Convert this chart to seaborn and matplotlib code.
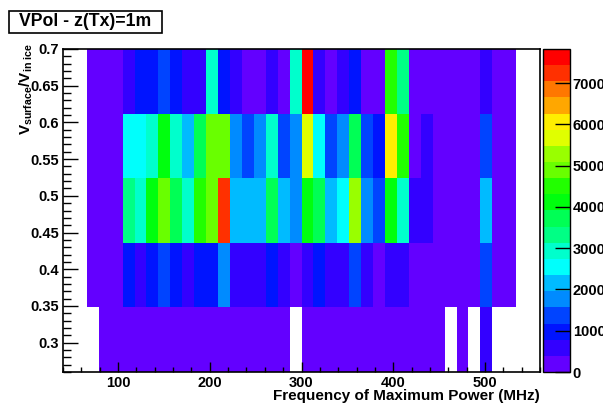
import colorsys
import numpy as np
import pandas as pd
import matplotlib
matplotlib.use("Agg")
import matplotlib.pyplot as plt
from matplotlib.colors import ListedColormap
from matplotlib.patches import Rectangle
from matplotlib.ticker import MultipleLocator, FormatStrFormatter
import seaborn as sns

# bin edges of the 2D histogram
freq_edges = list(range(40, 561, 13))          # MHz, 40 bins
ratio_edges = [0.26, 0.348, 0.436, 0.524, 0.612, 0.70]

# counts per ratio row (bottom -> top), one value per frequency bin
counts_row0 = [0, 0, 0, 150, 180, 220, 240, 230, 250, 260, 240, 250, 230, 260, 240, 220,
               230, 210, 200, 0, 190, 200, 210, 190, 200, 180, 170, 190, 180, 150,
               140, 120, 0, 90, 0, 520, 0, 0, 0, 0]
counts_row1 = [0, 0, 230, 260, 250, 990, 620, 970, 1360, 1000, 600, 960, 1020, 1770, 580, 610,
               570, 980, 560, 370, 590, 1000, 600, 620, 1390, 570, 360, 560, 590, 280,
               260, 220, 200, 190, 180, 1400, 210, 170, 0, 0]
counts_row2 = [0, 0, 300, 320, 290, 3350, 2900, 4120, 4870, 3750, 2960, 4480, 4900, 7250, 2170, 2130,
               2190, 3700, 2150, 1770, 4100, 3740, 2160, 2560, 5300, 1760, 1380, 4080, 2920, 600,
               580, 340, 300, 270, 250, 2140, 300, 220, 0, 0]
counts_row3 = [0, 0, 260, 300, 280, 2520, 2580, 2900, 4050, 2950, 2180, 3700, 4850, 4920, 1780, 1400,
               1720, 2930, 1380, 1800, 5700, 2560, 1350, 1750, 3680, 1390, 1010, 6100, 4520, 370,
               520, 300, 250, 230, 210, 1360, 280, 190, 0, 0]
counts_row4 = [0, 0, 210, 260, 240, 560, 1010, 950, 1400, 990, 640, 600, 2900, 1000, 620, 330,
               300, 520, 350, 2960, 7830, 610, 360, 700, 1050, 310, 280, 4480, 3300, 250,
               220, 190, 170, 200, 180, 640, 230, 160, 0, 0]

cbar_ticks = [0, 1000, 2000, 3000, 4000, 5000, 6000, 7000]

rows = [counts_row0, counts_row1, counts_row2, counts_row3, counts_row4]
freq_centers = [(a + b) / 2 for a, b in zip(freq_edges[:-1], freq_edges[1:])]
ratio_centers = [(a + b) / 2 for a, b in zip(ratio_edges[:-1], ratio_edges[1:])]
records = []
for yc, row in zip(ratio_centers, rows):
    for xc, c in zip(freq_centers, row):
        if c > 0:
            records.append((xc, yc, c))
df = pd.DataFrame(records, columns=["freq", "ratio", "count"])

plt.rcParams['font.family'] = ['Liberation Sans', 'DejaVu Sans']
plt.rcParams['font.weight'] = 'bold'
plt.rcParams['mathtext.fontset'] = 'custom'
plt.rcParams['mathtext.rm'] = 'Liberation Sans:bold'
plt.rcParams['mathtext.bf'] = 'Liberation Sans:bold'
plt.rcParams['mathtext.it'] = 'Liberation Sans:bold'

# ROOT-like violet->red palette, 20 contour levels
hues = [280 - (int((j + 0.99) * 50 / 20) + 1) * 5.6 for j in range(20)]
palette = ListedColormap([colorsys.hls_to_rgb(h / 360, 0.5, 1) for h in hues])

fig = plt.figure(figsize=(6.03, 4.05), dpi=100)
ax = fig.add_axes([63 / 603, 33 / 405, 477 / 603, 323 / 405])
cax = fig.add_axes([543 / 603, 33 / 405, 27 / 603, 323 / 405])

sns.histplot(data=df, x="freq", y="ratio", weights="count",
             bins=[freq_edges, ratio_edges], cmap=palette, vmax=max(counts_row4),
             cbar=True, cbar_ax=cax, cbar_kws=dict(ticks=cbar_ticks), ax=ax)

ax.set_xlim(40, 560)
ax.set_ylim(0.26, 0.70)
ax.xaxis.set_major_locator(MultipleLocator(100))
ax.xaxis.set_minor_locator(MultipleLocator(20))
ax.yaxis.set_major_locator(MultipleLocator(0.05))
ax.yaxis.set_minor_locator(MultipleLocator(0.01))
ax.yaxis.set_major_formatter(FormatStrFormatter('%g'))
ax.tick_params(axis='x', which='major', direction='in', length=7, width=1, labelsize=10.5, pad=3)
ax.tick_params(axis='x', which='minor', direction='in', length=3.3, width=1)
ax.tick_params(axis='y', which='major', direction='in', length=10.8, width=1, labelsize=10.5, pad=3)
ax.tick_params(axis='y', which='minor', direction='in', length=5.5, width=1)
for sp in ax.spines.values():
    sp.set_color('black')
    sp.set_linewidth(1.2)
    sp.set_zorder(5)

ax.set_xlabel("Frequency of Maximum Power (MHz)", loc='right', fontsize=11,
              fontweight='bold', labelpad=-1)
ax.set_ylabel(r'$\mathbf{V_{surface}/V_{in\ ice}}$', loc='top', fontsize=11)
ax.yaxis.set_label_coords(-0.059, 1.02)

cax.tick_params(direction='in', length=10.8, width=1, labelsize=10.5, pad=2)
cax.yaxis.set_major_formatter(FormatStrFormatter('%d'))
for sp in cax.spines.values():
    sp.set_color('black')
    sp.set_linewidth(1)
cax.set_ylim(0, max(counts_row4))

# title box
fig.add_artist(Rectangle((9 / 603, 1 - 33 / 405), 153 / 603, 22.3 / 405,
                         transform=fig.transFigure, facecolor='white',
                         edgecolor='black', linewidth=1.2))
fig.text(85.5 / 603, 1 - 22 / 405, "VPol - z(Tx)=1m", ha='center', va='center',
         fontsize=12.7, fontweight='bold')

fig.savefig("out.png", dpi=100)
